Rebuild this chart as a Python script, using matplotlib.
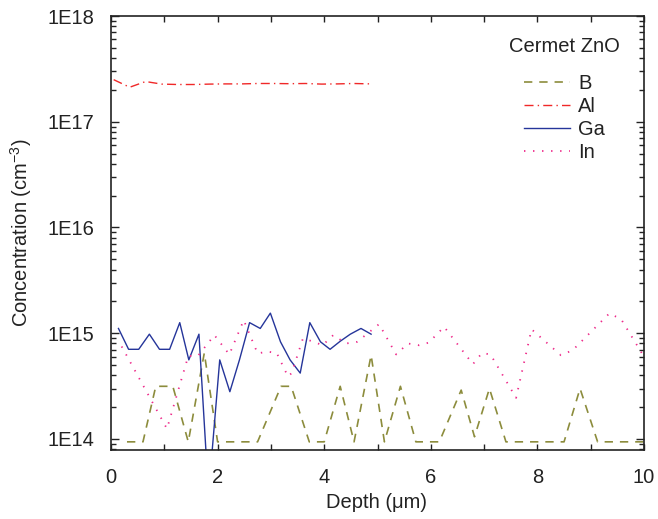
import matplotlib
matplotlib.use("Agg")
import matplotlib.pyplot as plt
import numpy as np
from matplotlib.ticker import LogLocator, FuncFormatter, MultipleLocator, NullFormatter

plt.rcParams['font.family'] = ['Liberation Sans', 'DejaVu Sans']
plt.rcParams['mathtext.fontset'] = 'custom'
plt.rcParams['mathtext.rm'] = 'Liberation Sans'
plt.rcParams['mathtext.default'] = 'regular'
plt.rcParams['lines.scale_dashes'] = False

# ---- data ----
b_x = [0.3, 0.6, 0.84, 1.16, 1.45, 1.75, 2.0, 2.75, 3.19, 3.38, 3.72, 4.0, 4.3, 4.56,
       4.88, 5.13, 5.43, 5.72, 6.16, 6.57, 6.82, 7.10, 7.41, 8.5, 8.80, 9.13, 10.0]
b_y = [9.4e13, 9.4e13, 3.15e14, 3.15e14, 9.4e13, 6.5e14, 9.4e13, 9.4e13, 3.15e14, 3.15e14,
       9.4e13, 9.4e13, 3.15e14, 9.4e13, 6.2e14, 9.4e13, 3.15e14, 9.4e13, 9.4e13, 2.9e14,
       1.05e14, 3.0e14, 9.4e13, 9.4e13, 3.0e14, 9.4e13, 9.4e13]

al_x = [0.05, 0.35, 0.65, 0.95, 1.25, 1.55, 1.85, 2.15, 2.45, 2.75, 3.05, 3.35, 3.65,
        3.95, 4.25, 4.55, 4.88]
al_y = [2.5e17, 2.12e17, 2.4e17, 2.27e17, 2.25e17, 2.25e17, 2.27e17, 2.28e17, 2.28e17,
        2.3e17, 2.3e17, 2.29e17, 2.3e17, 2.27e17, 2.28e17, 2.3e17, 2.28e17]

ga_x = [0.14, 0.33, 0.52, 0.72, 0.91, 1.10, 1.29, 1.46, 1.65, 1.83, 2.04, 2.23, 2.41,
        2.60, 2.80, 2.99, 3.18, 3.36, 3.55, 3.73, 3.93, 4.11, 4.30, 4.49, 4.69, 4.88]
ga_y = [1.11e15, 7.05e14, 7.05e14, 9.8e14, 7.05e14, 7.05e14, 1.26e15, 5.6e14, 9.8e14,
        3.0e13, 5.6e14, 2.8e14, 5.6e14, 1.26e15, 1.11e15, 1.55e15, 8.3e14, 5.6e14,
        4.2e14, 1.26e15, 8.3e14, 7.05e14, 8.4e14, 9.8e14, 1.11e15, 9.8e14]

in_x = [0.2, 1.05, 1.45, 1.63, 1.94, 2.22, 2.49, 2.75, 2.94, 3.11, 3.32, 3.39, 3.60,
        3.76, 3.97, 4.17, 4.41, 4.62, 5.03, 5.35, 5.57, 5.78, 5.96, 6.25, 6.79, 6.96,
        7.12, 7.60, 7.89, 8.44, 8.66, 9.35, 9.57, 10.0]
in_y = [7.5e14, 1.25e14, 6.1e14, 6.1e14, 9.6e14, 6.3e14, 1.33e15, 6.45e14, 6.7e14,
        6.5e14, 3.9e14, 4.2e14, 8.9e14, 8.45e14, 7.7e14, 9.6e14, 8.0e14, 8.3e14,
        1.22e15, 6.3e14, 8.0e14, 7.7e14, 8.15e14, 1.15e15, 5.1e14, 6.5e14, 6.3e14,
        2.45e14, 1.09e15, 6.2e14, 6.9e14, 1.54e15, 1.36e15, 6.0e14]

x_ticks = [0, 2, 4, 6, 8, 10]
y_major = [1e14, 1e15, 1e16, 1e17, 1e18]

# ---- figure ----
W, H = 658, 519
fig = plt.figure(figsize=(W / 100, H / 100), dpi=100)
L, R, B, T = 111, 644, 450, 16
ax = fig.add_axes([L / W, 1 - B / H, (R - L) / W, (B - T) / H])

FS = 14.5
ax.plot(b_x, b_y, color='#8c8c3c', lw=1.2, dashes=(6.0, 5.0), label='B')
ax.plot(al_x, al_y, color='#f02828', lw=1.0, dashes=(6.5, 3.0, 1.0, 3.0), label='Al')
ax.plot(ga_x, ga_y, color='#25359a', lw=1.0, label='Ga')
ax.plot(in_x, in_y, color='#ee2a8a', lw=1.3, dashes=(1.0, 5.5), label='In')

ax.set_yscale('log')
ax.set_xlim(0, 10)
ax.set_ylim(7.87e13, 1e18)

ax.xaxis.set_major_locator(MultipleLocator(1))
ax.xaxis.set_major_formatter(FuncFormatter(lambda v, p: f"{int(round(v))}" if int(round(v)) % 2 == 0 else ""))
ax.yaxis.set_major_locator(LogLocator(base=10, numticks=10))
ax.yaxis.set_minor_locator(LogLocator(base=10, subs=np.arange(2, 10), numticks=20))
ax.yaxis.set_minor_formatter(NullFormatter())
ax.yaxis.set_major_formatter(FuncFormatter(lambda v, p: f"1E{int(round(np.log10(v)))}"))

ax.tick_params(axis='both', which='both', direction='in', top=True, right=True,
               labelsize=FS, colors='#222222', width=1.0)
ax.tick_params(axis='x', which='major', length=4.5, pad=12.7)
ax.tick_params(axis='y', which='major', length=6, pad=12)
ax.tick_params(axis='y', which='minor', length=3.5)
for s in ax.spines.values():
    s.set_linewidth(1.2)
    s.set_color('#222222')

fig.text(377 / W, 1 - 508 / H, 'Depth (μm)', ha='center', va='baseline',
         fontsize=FS, color='#222222')
fig.text(27.5 / W, 1 - 233 / H, 'Concentration (cm$^{-3}$)', rotation=90,
         rotation_mode='anchor', ha='center', va='baseline', fontsize=FS, color='#222222')

fig.text(564 / W, 1 - 47 / H, 'Cermet ZnO', ha='center', va='center',
         fontsize=FS, color='#222222')
leg = ax.legend(loc='upper left', bbox_to_anchor=(524 / W, 1 - 74 / H),
                bbox_transform=fig.transFigure, frameon=False, fontsize=FS,
                handlelength=2.3, handletextpad=0.4, labelspacing=0.2,
                borderpad=0, borderaxespad=0)
for t in leg.get_texts():
    t.set_color('#222222')

fig.savefig('out.png', dpi=100)
